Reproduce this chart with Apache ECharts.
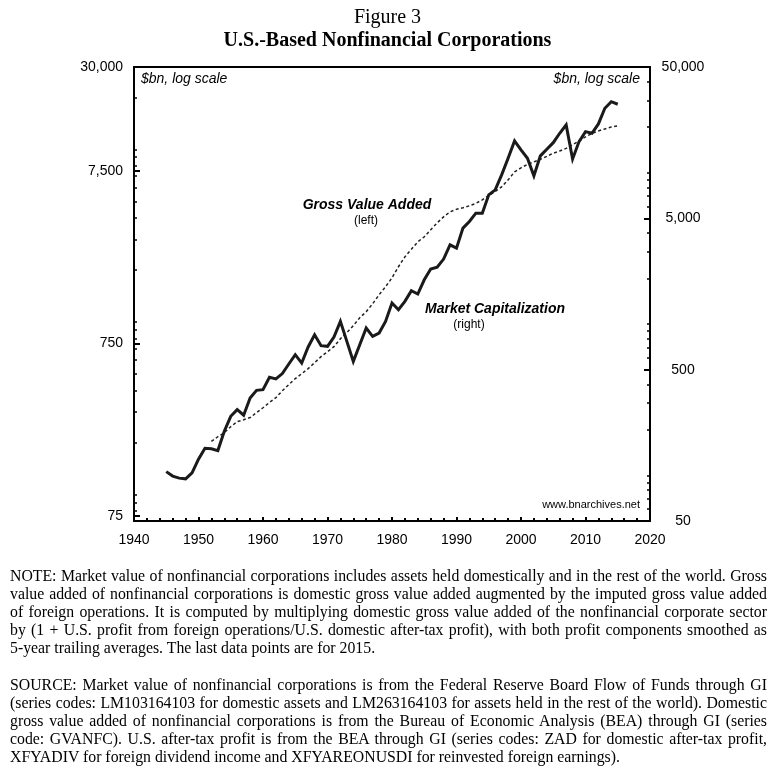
<!DOCTYPE html>
<html><head><meta charset="utf-8">
<script src="https://cdn.jsdelivr.net/npm/echarts@6/dist/echarts.min.js"></script>
<style>
html,body{margin:0;padding:0;background:#fff;}
#chart{position:absolute;left:0;top:0;width:775px;height:768px;}
#notes{position:absolute;left:10px;top:567px;width:757px;font-family:'Liberation Serif','Times New Roman',serif;font-size:15.8px;line-height:18px;color:#000;}
.j{text-align:justify;text-align-last:justify;white-space:nowrap;}
.l{text-align:left;white-space:nowrap;}
.gap{height:19px;}
</style>
</head><body>
<div id="chart"></div>
<div id="notes">
<div class="j">NOTE: Market value of nonfinancial corporations includes assets held domestically and in the rest of the world. Gross</div>
<div class="j">value added of nonfinancial corporations is domestic gross value added augmented by the imputed gross value added</div>
<div class="j">of foreign operations. It is computed by multiplying domestic gross value added of the nonfinancial corporate sector</div>
<div class="j">by (1 + U.S. profit from foreign operations/U.S. domestic after-tax profit), with both profit components smoothed as</div>
<div class="l">5-year trailing averages. The last data points are for 2015.</div>
<div class="gap"></div>
<div class="j">SOURCE: Market value of nonfinancial corporations is from the Federal Reserve Board Flow of Funds through GI</div>
<div class="j">(series codes: LM103164103 for domestic assets and LM263164103 for assets held in the rest of the world). Domestic</div>
<div class="j">gross value added of nonfinancial corporations is from the Bureau of Economic Analysis (BEA) through GI (series</div>
<div class="j">code: GVANFC). U.S. after-tax profit is from the BEA through GI (series codes: ZAD for domestic after-tax profit,</div>
<div class="l">XFYADIV for foreign dividend income and XFYAREONUSDI for reinvested foreign earnings).</div>
</div>
<script>
// ---- data ($bn) ----
const capStartYear = 1945;
const capValues = [
  106, 99, 96, 95, 104, 128, 151, 150, 146, 196,
  246, 272, 250, 325, 365, 369, 445, 434, 471, 545,
  628, 553, 706, 851, 720, 713, 822, 1042, 769, 567,
  731, 942, 830, 873, 1042, 1379, 1245, 1413, 1661, 1580,
  1963, 2311, 2381, 2690, 3342, 3178, 4307, 4763, 5408, 5400,
  7148, 7710, 9680, 12470, 16240, 14160, 12470, 9540, 12930, 14310,
  15810, 18240, 20710, 12350, 16070, 18710, 18240, 21030, 26690, 29500,
  28370
];
const gvaStartYear = 1952;
const gvaValues = [
  203, 216, 228, 247, 264, 271, 279, 298, 318, 341,
  364, 399, 433, 469, 501, 536, 580, 629, 672, 718,
  799, 866, 950, 1057, 1145, 1274, 1436, 1599, 1801, 2087,
  2384, 2634, 2912, 3113, 3417, 3751, 4062, 4342, 4491, 4581,
  4705, 4864, 5096, 5411, 5692, 6061, 6652, 7403, 7810, 8182,
  8455, 8743, 9101, 9494, 9789, 10125, 10610, 11192, 11802, 12364,
  12785, 13129, 13480, 13662
];
const leftLabelValues = [75, 750, 7500, 30000];
const rightLabelValues = [50, 500, 5000, 50000];
const leftMinorTicks = [80, 90, 100, 200, 300, 400, 500, 600, 700, 800, 900, 1000,
  2000, 3000, 4000, 5000, 6000, 7000, 8000, 9000, 10000, 20000];
const rightMinorTicks = [60, 70, 80, 90, 100, 200, 300, 400, 600, 700, 800, 900, 1000,
  2000, 3000, 4000, 6000, 7000, 8000, 9000, 10000, 20000, 30000, 40000];

const capSeries = capValues.map((v, i) => [capStartYear + i, v]);
const gvaSeries = gvaValues.map((v, i) => [gvaStartYear + i, v]);
const fmt = v => String(Math.round(v)).replace(/\B(?=(\d{3})+(?!\d))/g, ',');

const sans = "'Liberation Sans', Arial, Helvetica, sans-serif";
const serif = "'Liberation Serif', 'Times New Roman', serif";
const chart = echarts.init(document.getElementById('chart'), null, {renderer: 'canvas'});

const minorAxis = (pos, min, max, vals) => ({
  type: 'log', position: pos, min: min, max: max, logBase: 10,
  axisLine: {show: false}, splitLine: {show: false},
  axisLabel: {show: false},
  axisTick: {show: true, inside: true, length: 3, customValues: vals, lineStyle: {color: '#000', width: 1.5}}
});

chart.setOption({
  animation: false,
  backgroundColor: '#fff',
  title: {
    text: 'Figure 3',
    subtext: 'U.S.-Based Nonfinancial Corporations',
    left: 'center', top: 3, itemGap: 3,
    textStyle: {fontFamily: serif, fontSize: 20, fontWeight: 'normal', color: '#000'},
    subtextStyle: {fontFamily: serif, fontSize: 20, fontWeight: 'bold', color: '#000'}
  },
  grid: {left: 134, right: 125, top: 67, bottom: 247, show: true, borderColor: '#000', borderWidth: 2, backgroundColor: 'transparent'},
  xAxis: {
    type: 'value', min: 1940, max: 2020, interval: 10,
    axisLine: {show: true, lineStyle: {color: '#000', width: 2}},
    axisTick: {show: true, inside: true, length: 4, lineStyle: {color: '#000', width: 2}},
    minorTick: {show: true, splitNumber: 5, length: 3, lineStyle: {color: '#000', width: 2}},
    splitLine: {show: false},
    axisLabel: {color: '#000', fontFamily: sans, fontSize: 14, margin: 12, formatter: v => String(v)}
  },
  yAxis: [
    {
      type: 'log', position: 'left', min: 70.17, max: 30000, logBase: 10,
      axisLine: {show: true, lineStyle: {color: '#000', width: 2}},
      splitLine: {show: false},
      axisTick: {show: true, inside: true, length: 6, customValues: [75, 750, 7500], lineStyle: {color: '#000', width: 2}},
      axisLabel: {color: '#000', fontFamily: sans, fontSize: 14, margin: 11, customValues: leftLabelValues, formatter: fmt}
    },
    {
      type: 'log', position: 'right', min: 50, max: 50000, logBase: 10,
      axisLine: {show: true, lineStyle: {color: '#000', width: 2}},
      splitLine: {show: false},
      axisTick: {show: true, inside: true, length: 6, customValues: [500, 5000], lineStyle: {color: '#000', width: 2}},
      axisLabel: {color: '#000', fontFamily: sans, fontSize: 14, margin: 33, align: 'center', customValues: rightLabelValues, formatter: fmt}
    },
    minorAxis('left', 70.17, 30000, leftMinorTicks),
    minorAxis('right', 50, 50000, rightMinorTicks)
  ],
  series: [
    {
      name: 'Gross Value Added', type: 'line', yAxisIndex: 0, data: gvaSeries,
      showSymbol: false, symbol: 'none', z: 2,
      lineStyle: {color: '#222', width: 1.5, type: [3, 2.5]}
    },
    {
      name: 'Market Capitalization', type: 'line', yAxisIndex: 1, data: capSeries,
      showSymbol: false, symbol: 'none', z: 3,
      lineStyle: {color: '#1a1a1a', width: 3, join: 'miter'}
    }
  ],
  graphic: [
    {type: 'text', left: 141, top: 72, style: {text: '$bn, log scale', fontFamily: sans, fontSize: 14, fontStyle: 'italic', fill: '#000'}},
    {type: 'text', right: 135, top: 72, style: {text: '$bn, log scale', fontFamily: sans, fontSize: 14, fontStyle: 'italic', fill: '#000'}},
    {type: 'text', x: 367, y: 205, style: {text: 'Gross Value Added', fontFamily: sans, fontSize: 14, fontStyle: 'italic', fontWeight: 'bold', fill: '#000', align: 'center', verticalAlign: 'middle'}},
    {type: 'text', x: 366, y: 221, style: {text: '(left)', fontFamily: sans, fontSize: 12, fill: '#000', align: 'center', verticalAlign: 'middle'}},
    {type: 'text', x: 495, y: 309, style: {text: 'Market Capitalization', fontFamily: sans, fontSize: 14, fontStyle: 'italic', fontWeight: 'bold', fill: '#000', align: 'center', verticalAlign: 'middle'}},
    {type: 'text', x: 469, y: 325, style: {text: '(right)', fontFamily: sans, fontSize: 12, fill: '#000', align: 'center', verticalAlign: 'middle'}},
    {type: 'text', x: 640, y: 505, style: {text: 'www.bnarchives.net', fontFamily: sans, fontSize: 11, fill: '#000', align: 'right', verticalAlign: 'middle'}}
  ]
});
</script>
</body></html>
